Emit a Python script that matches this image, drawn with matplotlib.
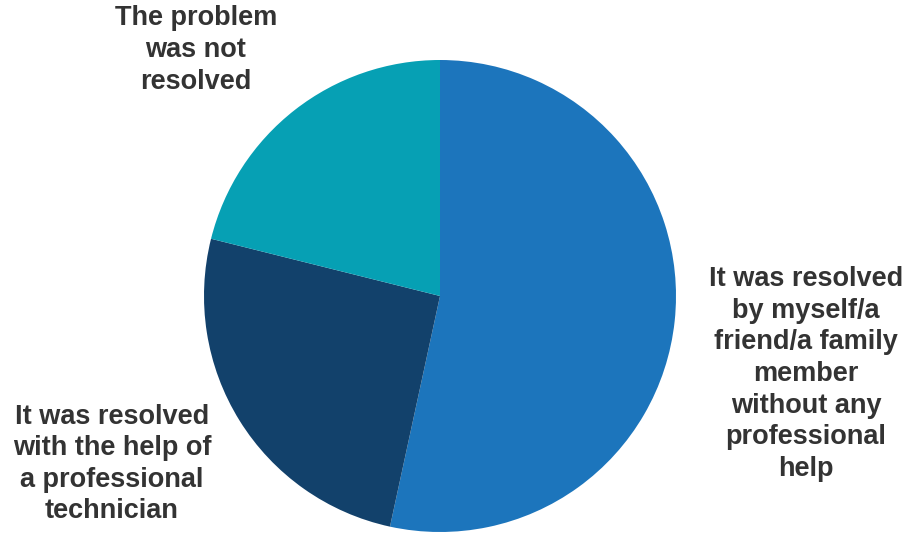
import matplotlib.pyplot as plt

# Data
labels = [
    'It was resolved\nby myself/a\nfriend/a family\nmember\nwithout any\nprofessional\nhelp',
    'It was resolved\nwith the help of\na professional\ntechnician',
    'The problem\nwas not\nresolved',
]
shares = [53.4, 25.5, 21.1]
colors = ['#1C75BC', '#12416B', '#06A0B4']

# label centres in figure pixels (x, y from top)
label_pos = [(806, 374), (112, 464), (196, 50)]

W, H = 909, 533
fig = plt.figure(figsize=(W / 100, H / 100), dpi=100)

# pie centre (440, 296), radius 236 px
cx, cy, r = 440, 296, 236
ax = fig.add_axes([(cx - r) / W, (H - cy - r) / H, 2 * r / W, 2 * r / H])
ax.pie(shares, colors=colors, startangle=90, counterclock=False,
       wedgeprops=dict(linewidth=0))
ax.set_xlim(-1, 1)
ax.set_ylim(-1, 1)
ax.set_aspect('equal')
ax.axis('off')

for lab, (px, py) in zip(labels, label_pos):
    fig.text(px / W, 1 - py / H, lab, ha='center', va='center',
             fontsize=19.5, fontweight='bold', color='#333333',
             family='Liberation Sans', linespacing=1.28)

fig.savefig('out.png', dpi=100)
